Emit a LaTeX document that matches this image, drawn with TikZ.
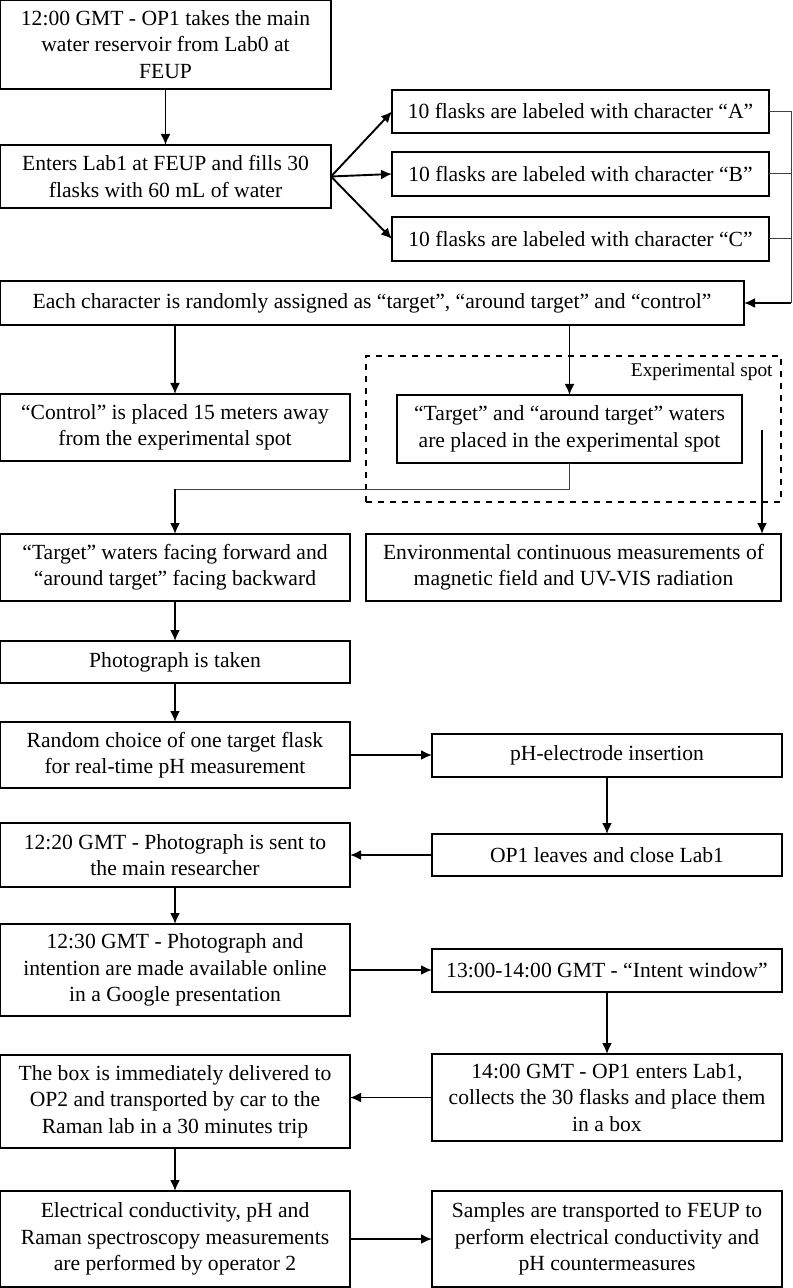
\documentclass[tikz,border=0pt]{standalone}
\usepackage{fontspec}
\setmainfont{Liberation Serif}
\usepackage{tikz}
\usetikzlibrary{arrows.meta}

\begin{document}
\begin{tikzpicture}[x=0.5pt, y=-0.5pt, >={Latex[length=5.5pt, width=5pt]}]
\tikzstyle{block} = [draw, rectangle, line width=0.75pt, inner sep=0pt, outer sep=0pt, align=center, font=\fontsize{10.8pt}{13.2pt}\selectfont]
\tikzstyle{lbox} = [block, minimum width=175pt]
\tikzstyle{rbox} = [block, minimum width=175pt]
\tikzstyle{line} = [draw, line width=0.95pt]
\tikzstyle{thinline} = [draw, line width=0.5pt, black!75]
\useasboundingbox (0,0) rectangle (792,1288);

    % top part
    \node [block, minimum width=165.5pt, minimum height=44.5pt] (start) at (165.5,44.5) {12:00 GMT - OP1 takes the main\\water reservoir from Lab0 at\\FEUP};
    \node [block, minimum width=165.5pt, minimum height=31.5pt] (fill) at (165.5,176.5) {Enters Lab1 at FEUP and fills 30\\flasks with 60 mL of water};
    \node [block, minimum width=188.5pt, minimum height=21.5pt] (flaskA) at (580.5,111.5) {10 flasks are labeled with character “A”};
    \node [block, minimum width=188.5pt, minimum height=22pt] (flaskB) at (580.5,174) {10 flasks are labeled with character “B”};
    \node [block, minimum width=188.5pt, minimum height=22pt] (flaskC) at (580.5,239) {10 flasks are labeled with character “C”};
    \node [block, minimum width=372pt, minimum height=22pt] (assign) at (372,303) {Each character is randomly assigned as “target”, “around target” and “control”};

    % experimental spot
    \node [draw, dashed, line width=0.8pt, minimum width=207.5pt, minimum height=73pt, inner sep=0pt] (spot) at (573.5,429) {};
    \node [anchor=east, font=\fontsize{9.7pt}{11pt}\selectfont, inner sep=0pt] (spotlabel) at (773,372) {Experimental spot};
    \node [lbox, minimum height=33.5pt] (control) at (175,427.5) {“Control” is placed 15 meters away\\from the experimental spot};
    \node [block, minimum width=172.5pt, minimum height=34pt] (placed) at (569.5,429) {“Target” and “around target” waters\\are placed in the experimental spot};
    \node [lbox, minimum height=33.5pt] (waters) at (175,567.5) {“Target” waters facing forward and\\“around target” facing backward};
    \node [block, minimum width=207.5pt, minimum height=33.5pt] (env) at (573.5,567.5) {Environmental continuous measurements of\\magnetic field and UV-VIS radiation};

    % lower part
    \node [lbox, minimum height=21pt] (photo) at (175,662) {Photograph is taken};
    \node [lbox, minimum height=33pt] (random) at (175,755) {Random choice of one target flask\\for real-time pH measurement};
    \node [rbox, minimum height=21.5pt] (electrode) at (607,755.5) {pH-electrode insertion};
    \node [rbox, minimum height=21pt] (leaves) at (607,855) {OP1 leaves and close Lab1};
    \node [lbox, minimum height=32pt] (sent) at (175,855) {12:20 GMT - Photograph is sent to\\the main researcher};
    \node [lbox, minimum height=46pt] (online) at (175,970) {12:30 GMT - Photograph and\\intention are made available online\\in a Google presentation};
    \node [rbox, minimum height=21.5pt] (window) at (607,970.5) {13:00-14:00 GMT - “Intent window”};
    \node [rbox, minimum height=43.5pt] (collect) at (607,1097.5) {14:00 GMT - OP1 enters Lab1,\\collects the 30 flasks and place them\\in a box};
    \node [lbox, minimum height=46.5pt] (delivered) at (175,1101.5) {The box is immediately delivered to\\OP2 and transported by car to the\\Raman lab in a 30 minutes trip};
    \node [lbox, minimum height=48pt] (measure) at (175,1239) {Electrical conductivity, pH and\\Raman spectroscopy measurements\\are performed by operator 2};
    \node [rbox, minimum height=48pt] (samples) at (607,1239) {Samples are transported to FEUP to\\perform electrical conductivity and\\pH countermeasures};

    \coordinate (bus) at (791,303);
    \coordinate (turn) at (175,489);
    \coordinate (sensor) at (762,430);

    % connections
    \draw [line, ->] (start) -- (fill);
    \draw [line, ->] (fill.east) -- (flaskA.west);
    \draw [line, ->] (fill.east) -- (flaskB.west);
    \draw [line, ->] (fill.east) -- (flaskC.west);
    \draw [thinline] (flaskA.east) -| (bus);
    \draw [thinline] (flaskB.east) -| (bus);
    \draw [thinline] (flaskC.east) -| (bus);
    \draw [line, ->] (bus) -- (assign.east);
    \draw [line, ->] (control.north |- assign.south) -- (control.north);
    \draw [line, ->] (placed.north |- assign.south) -- (placed.north);
    \draw [thinline] (placed.south) |- (turn);
    \draw [line, ->] (turn) -- (waters.north);
    \draw [line, ->] (sensor) -- (sensor |- env.north);
    \draw [line, ->] (waters) -- (photo);
    \draw [line, ->] (photo) -- (random);
    \draw [line, ->] (random.east) -- (random.east -| electrode.west);
    \draw [line, ->] (electrode) -- (leaves);
    \draw [line, ->] (leaves.west) -- (leaves.west -| sent.east);
    \draw [line, ->] (sent) -- (online);
    \draw [line, ->] (online.east) -- (online.east -| window.west);
    \draw [line, ->] (window) -- (collect);
    \draw [line, ->] (collect.west) -- (collect.west -| delivered.east);
    \draw [line, ->] (delivered) -- (measure);
    \draw [line, ->] (measure.east) -- (samples.west);

\end{tikzpicture}
\end{document}
